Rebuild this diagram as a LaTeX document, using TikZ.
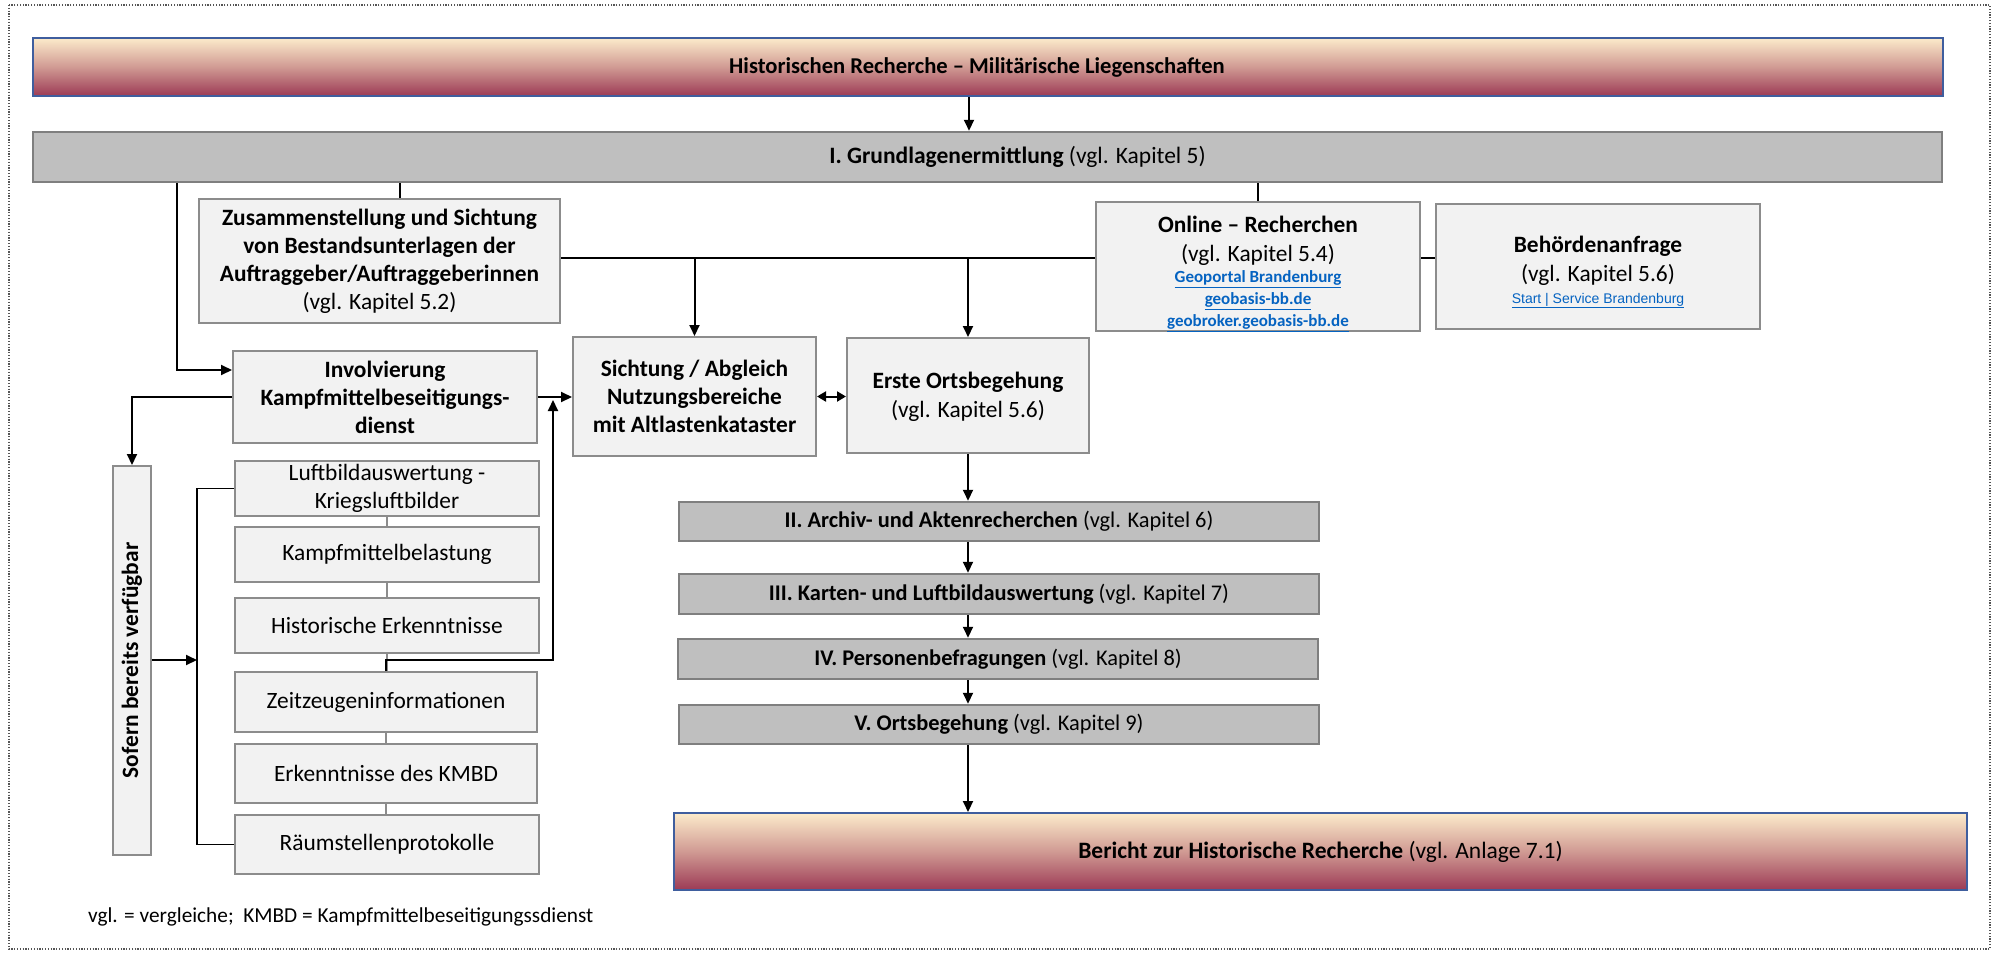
\documentclass[tikz,border=0pt]{standalone}
\usepackage{fontspec}
\setmainfont{Carlito}
\newfontfamily\arialfont{Liberation Sans}
\usetikzlibrary{arrows.meta,calc}

\definecolor{boxfill}{HTML}{F2F2F2}
\definecolor{boxline}{HTML}{8C8C8C}
\definecolor{phasefill}{HTML}{BFBFBF}
\definecolor{phaseline}{HTML}{7F7F7F}
\definecolor{bannerline}{HTML}{3F5E9E}
\definecolor{bannertop}{HTML}{FCEBCB}
\definecolor{bannermid}{HTML}{D09A93}
\definecolor{bannerbot}{HTML}{9C3A55}
\definecolor{linkblue}{HTML}{0563C1}
\definecolor{framegray}{HTML}{555555}

\newcommand{\linktext}[1]{\textcolor{linkblue}{\underline{#1}}}

\tikzset{
  box/.style={draw=boxline, fill=boxfill, line width=2pt, inner sep=0pt,
    align=center, font=\fontsize{23.4}{28}\selectfont},
  phase/.style={draw=phaseline, fill=phasefill, line width=2.5pt, inner sep=0pt,
    minimum width=640pt, minimum height=39pt, font=\fontsize{22.4}{26}\selectfont},
  banner/.style={draw=bannerline, line width=2pt, inner sep=0pt,
    top color=bannertop, bottom color=bannerbot, middle color=bannermid},
  bannertext/.style={inner sep=0pt},
  flow/.style={line width=2pt, -{Triangle[length=11pt,width=10pt]}},
  twoway/.style={line width=2pt, {Triangle[length=9pt,width=10pt]}-{Triangle[length=9pt,width=10pt]}},
  tie/.style={line width=1.8pt},
  thin tie/.style={line width=1.5pt},
  chain/.style={line width=1.5pt, draw=boxline},
}

\begin{document}
\begin{tikzpicture}[x=1pt, y=-1pt]
  % page area and dotted frame
  \useasboundingbox (0,0) rectangle (1993,953);
  \fill[white] (0,0) rectangle (1993,953);
  \draw[framegray, line width=1.2pt, dash pattern=on 1.2pt off 1.6pt] (9,5) rectangle (1990,949);

  % header banner and basic investigation
  \node[banner, minimum width=1910pt, minimum height=58pt] (top) at (988,67) {};
  \node[bannertext, font=\fontsize{22.6}{26}\selectfont] (toptext) at ($(top.center)+(-11,0)$)
    {\textbf{Historischen Recherche – Militärische Liegenschaften}};

  \node[phase, minimum width=1909pt, minimum height=50pt] (grund) at (987.5,157) {};
  \node[bannertext, font=\fontsize{23.5}{27}\selectfont] (grundtext) at ($(grund.center)+(30,0)$)
    {\textbf{I. Grundlagenermittlung} (vgl. Kapitel 5)};

  % first row of sources
  \node[box, minimum width=361pt, minimum height=124pt] (zus) at (379.5,261)
    {\textbf{Zusammenstellung und Sichtung}\\
     \textbf{von Bestandsunterlagen der}\\
     \textbf{Auftraggeber/Auftraggeberinnen}\\
     (vgl. Kapitel 5.2)};

  \node[box, minimum width=324pt, minimum height=125pt] (online) at (1258,266.5)
    {\rule{0pt}{31pt}\textbf{Online – Recherchen}\\[1pt]
     (vgl. Kapitel 5.4)\\[-7pt]
     {\fontsize{17}{20}\selectfont\bfseries\linktext{Geoportal Brandenburg}}\\[-6pt]
     {\fontsize{17}{20}\selectfont\bfseries\linktext{geobasis-bb.de}}\\[-6pt]
     {\fontsize{17}{20}\selectfont\bfseries\linktext{geobroker.geobasis-bb.de}}};

  \node[box, minimum width=324pt, minimum height=125pt] (behoerde) at (1598,266.5)
    {\rule{0pt}{27pt}\textbf{Behördenanfrage}\\[1pt]
     (vgl. Kapitel 5.6)\\[-6pt]
     {\arialfont\fontsize{14}{18}\selectfont\linktext{Start | Service Brandenburg}}};

  % second row
  \node[box, minimum width=304pt, minimum height=92pt] (inv) at (385,397)
    {\textbf{Involvierung}\\
     \textbf{Kampfmittelbeseitigungs-}\\
     \textbf{dienst}};

  \node[box, minimum width=243pt, minimum height=119pt] (sicht) at (694.5,396.5)
    {\textbf{Sichtung / Abgleich}\\
     \textbf{Nutzungsbereiche}\\
     \textbf{mit Altlastenkataster}};

  \node[box, minimum width=242pt, minimum height=115pt] (erste) at (968,395.5)
    {\rule{0pt}{20pt}\textbf{Erste Ortsbegehung}\\[1pt]
     (vgl. Kapitel 5.6)};

  % explosive ordnance sources
  \node[box, minimum width=38pt, minimum height=389pt] (sofern) at (132,660.5)
    {\rotatebox{90}{\textbf{Sofern bereits verfügbar}}};

  \node[box, minimum width=304pt, minimum height=55pt] (luft) at (387,488.5)
    {Luftbildauswertung -\\Kriegsluftbilder};
  \node[box, minimum width=304pt, minimum height=55pt] (kampf) at (387,554.5)
    {Kampfmittelbelastung};
  \node[box, minimum width=304pt, minimum height=55pt] (hist) at (387,625.5)
    {Historische Erkenntnisse};
  \node[box, minimum width=302pt, minimum height=60pt] (zeit) at (386,702)
    {Zeitzeugeninformationen};
  \node[box, minimum width=302pt, minimum height=59pt] (kmbd) at (386,773.5)
    {Erkenntnisse des KMBD};
  \node[box, minimum width=304pt, minimum height=59pt] (raeum) at (387,844.5)
    {Räumstellenprotokolle};

  % investigation phases
  \node[phase] (ii) at (999,521.5)
    {\textbf{II. Archiv- und Aktenrecherchen} (vgl. Kapitel 6)};
  \node[phase, minimum height=40pt] (iii) at (999,594)
    {\textbf{III. Karten- und Luftbildauswertung} (vgl. Kapitel 7)};
  \node[phase, minimum height=40pt] (iv) at (998,659)
    {\textbf{IV. Personenbefragungen} (vgl. Kapitel 8)};
  \node[phase] (v) at (999,724.5)
    {\textbf{V. Ortsbegehung} (vgl. Kapitel 9)};

  \node[banner, minimum width=1293pt, minimum height=77pt] (bericht) at (1320.5,851.5) {};
  \node[bannertext, font=\fontsize{23.5}{27}\selectfont] (berichttext) at (bericht.center)
    {\textbf{Bericht zur Historische Recherche} (vgl. Anlage 7.1)};

  % footnote
  \node[anchor=west, inner sep=0pt, font=\fontsize{21.3}{25}\selectfont] (note) at (88,917)
    {vgl. = vergleiche;\ \ KMBD = Kampfmittelbeseitigungssdienst};

  % routing points
  \coordinate (maindrop) at (969,0);
  \coordinate (leftdrop) at (177,370);
  \coordinate (zusdrop) at (400,0);
  \coordinate (bus) at (0,258);
  \coordinate (brk) at (197,660);
  \coordinate (riser) at (553,660);

  % connectors
  \draw[flow] (maindrop |- top.south) -- (maindrop |- grund.north);
  \draw[flow] (leftdrop |- grund.south) |- (inv.west |- leftdrop);
  \draw[tie] (zusdrop |- grund.south) -- (zusdrop |- zus.north);
  \draw[tie] (online.north |- grund.south) -- (online.north);

  \draw[thin tie] (zus.east |- bus) -- (online.west |- bus);
  \draw[thin tie] (online.east |- bus) -- (behoerde.west |- bus);
  \draw[flow] (sicht.north |- bus) -- (sicht.north);
  \draw[flow] (erste.north |- bus) -- (erste.north);

  \draw[flow] (inv.east) -- (inv.east -| sicht.west);
  \draw[twoway] (sicht.east) -- (sicht.east -| erste.west);

  \draw[flow] (inv.west) -| (sofern.north);
  \draw[flow] (sofern.east |- brk) -- (brk);
  \draw[thin tie] (luft.west) -| (brk) |- (raeum.west);

  \draw[chain] (luft.south) -- (luft.south |- kampf.north);
  \draw[chain] (kampf.south) -- (kampf.south |- hist.north);
  \draw[chain] (hist.south) -- (hist.south |- zeit.north);
  \draw[chain] (zeit.south) -- (zeit.south |- kmbd.north);
  \draw[chain] (kmbd.south) -- (kmbd.south |- raeum.north);

  \draw[flow] (zeit.north) |- (riser) -- ($(riser |- inv.east)+(0,3)$);

  \draw[flow] (erste.south) -- (erste.south |- ii.north);
  \draw[flow] (erste.south |- ii.south) -- (erste.south |- iii.north);
  \draw[flow] (erste.south |- iii.south) -- (erste.south |- iv.north);
  \draw[flow] (erste.south |- iv.south) -- (erste.south |- v.north);
  \draw[flow] (erste.south |- v.south) -- (erste.south |- bericht.north);
\end{tikzpicture}
\end{document}
